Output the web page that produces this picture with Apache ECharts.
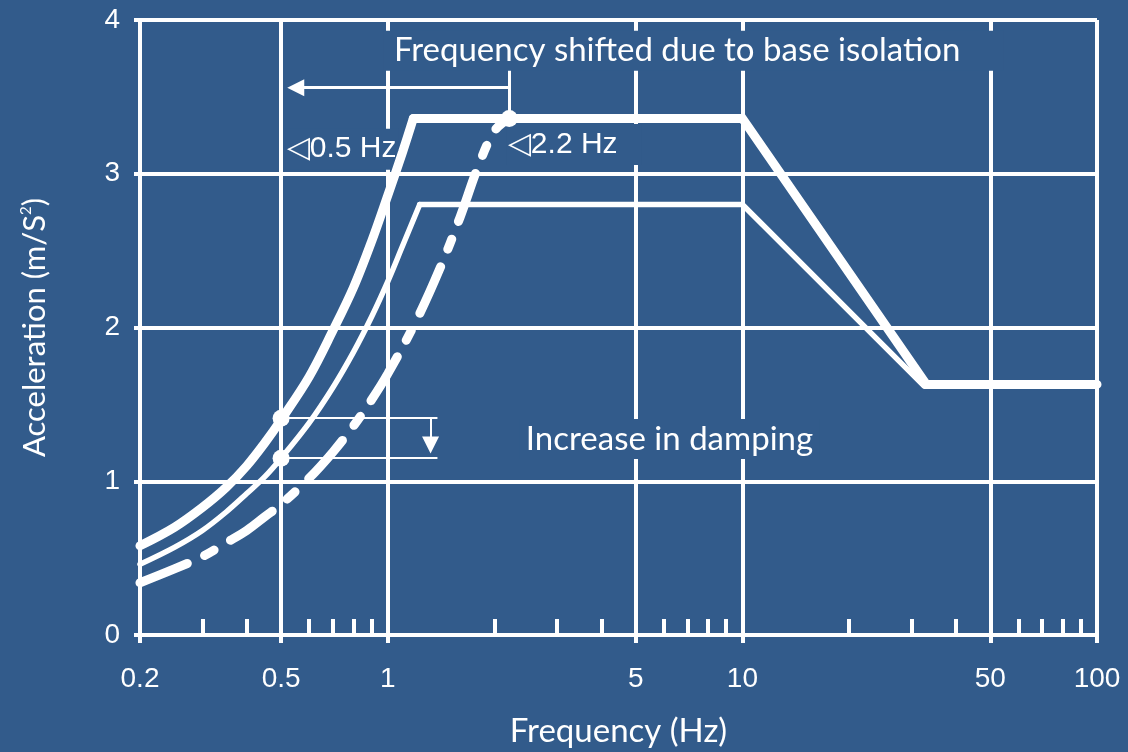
<!DOCTYPE html>
<html><head><meta charset="utf-8">
<script src="https://cdn.jsdelivr.net/npm/echarts@6/dist/echarts.min.js"></script>
<style>html,body{margin:0;padding:0;background:#325b8b}#c{width:1128px;height:752px}</style>
</head><body><div id="c"></div>
<script>
// ---- data ----
const majorTicks = [0.2, 0.5, 1, 5, 10, 50, 100];
const minorTicks = [0.3, 0.4, 0.6, 0.7, 0.8, 0.9, 2, 3, 4, 6, 7, 8, 9, 20, 30, 40, 60, 70, 80, 90];
const upperFreq = [0.2, 0.25, 0.3, 0.35, 0.4, 0.45, 0.5, 0.6, 0.7, 0.8, 0.9, 1.0, 1.1, 1.18, 10, 33, 100];
const upperAcc  = [0.58, 0.70, 0.83, 0.96, 1.10, 1.25, 1.40, 1.68, 1.98, 2.26, 2.56, 2.86, 3.14, 3.36, 3.36, 1.63, 1.63];
const dampedFreq = [0.2, 0.25, 0.3, 0.35, 0.4, 0.45, 0.5, 0.6, 0.7, 0.8, 0.9, 1.0, 1.1, 1.23, 10, 32.5];
const dampedAcc  = [0.46, 0.57, 0.68, 0.80, 0.92, 1.03, 1.15, 1.38, 1.61, 1.84, 2.07, 2.30, 2.53, 2.80, 2.80, 1.62];
const isolatedFreq = [0.2, 0.25, 0.3, 0.35, 0.4, 0.45, 0.5, 0.6, 0.7, 0.8, 0.9, 1.0, 1.2, 1.4, 1.6, 1.8, 2.0, 2.2];
const isolatedAcc  = [0.34, 0.43, 0.51, 0.60, 0.68, 0.77, 0.85, 1.02, 1.19, 1.36, 1.53, 1.70, 2.04, 2.38, 2.72, 3.05, 3.28, 3.36];
const markedPoints = [[0.5, 1.41], [0.5, 1.15], [2.2, 3.36]];
const annotationTexts = ['Frequency shifted due to base isolation', '\u25C10.5 Hz', '\u25C12.2 Hz', 'Increase in damping'];
const annotationAnchors = [[0.975, 3.80], [0.5155, 3.16], [2.166, 3.19], [2.357, 1.275]];
const arrowLines = [
  {coords: [[2.2, 3.56], [0.55, 3.56]], arrow: true, width: 3},
  {coords: [[2.2, 3.36], [2.2, 3.67]], arrow: false, width: 3},
  {coords: [[0.5, 1.41], [1.38, 1.41]], arrow: false, width: 2},
  {coords: [[0.5, 1.15], [1.38, 1.15]], arrow: false, width: 2},
  {coords: [[1.32, 1.41], [1.32, 1.235]], arrow: true, width: 2}
];

const BG = '#325b8b';
const W = '#ffffff';
const zip = (a, b) => a.map((v, i) => [v, b[i]]);
// split a curve at its first peak: rising (smoothed) part and straight remainder
function splitAtPeak(fs, as) {
  let k = 0;
  for (let i = 1; i < as.length; i++) { if (as[i] > as[k]) k = i; }
  const pts = zip(fs, as);
  return [pts.slice(0, k + 1), pts.slice(k)];
}

const chart = echarts.init(document.getElementById('c'), null, {renderer: 'canvas'});
const humanist = 'Lato, "Open Sans", sans-serif';
const arial = '"Liberation Sans", Arial, sans-serif';

const [upRise, upRest] = splitAtPeak(upperFreq, upperAcc);
const [dmRise, dmRest] = splitAtPeak(dampedFreq, dampedAcc);

const curveBase = {type: 'line', z: 3, showSymbol: false, silent: true};

const labelStyles = [
  {fontFamily: humanist, fontSize: 33, padding: [4, 10, 3, 10], width: 600},
  {fontFamily: arial, fontSize: 30, padding: [6, 2, 5, 1]},
  {fontFamily: arial, fontSize: 30, padding: [6, 4, 5, 1], width: 130},
  {fontFamily: humanist, fontSize: 33, padding: [4, 6, 3, 6]}
];

const option = {
  backgroundColor: BG,
  animation: false,
  grid: {left: 140, right: 31, top: 20, bottom: 117, containLabel: false, outerBoundsMode: 'none'},
  xAxis: [
    {
      type: 'log', logBase: 10, min: 0.2, max: 100, position: 'bottom',
      axisLine: {onZero: false, lineStyle: {color: W, width: 4}},
      axisTick: {show: true, customValues: majorTicks, length: 8, lineStyle: {color: W, width: 4}},
      axisLabel: {customValues: majorTicks, color: W, fontFamily: arial, fontSize: 28, margin: 30,
                  formatter: v => String(+v.toPrecision(6))},
      splitLine: {show: true, lineStyle: {color: W, width: 4}},
      name: 'Frequency (Hz)', nameLocation: 'middle', nameGap: 80,
      nameTextStyle: {color: W, fontFamily: humanist, fontSize: 33}
    },
    {
      type: 'log', logBase: 10, min: 0.2, max: 100, position: 'bottom',
      axisLine: {show: false, onZero: false},
      axisTick: {show: true, inside: true, customValues: minorTicks, length: 16, lineStyle: {color: W, width: 4}},
      axisLabel: {show: false},
      splitLine: {show: false}
    }
  ],
  yAxis: {
    type: 'value', min: 0, max: 4, interval: 1,
    axisLine: {show: true, lineStyle: {color: W, width: 4}},
    axisTick: {show: true, length: 6, lineStyle: {color: W, width: 4}},
    axisLabel: {color: W, fontFamily: arial, fontSize: 28, margin: 20},
    splitLine: {show: true, lineStyle: {color: W, width: 4}},
    name: 'Acceleration (m/S{sup|2})', nameLocation: 'middle', nameGap: 90,
    nameTextStyle: {color: W, fontFamily: humanist, fontSize: 31,
      rich: {sup: {fontSize: 15, color: W, fontFamily: humanist, verticalAlign: 'top', padding: [0, 0, 12, 0]}}}
  },
  series: [
    {
      type: 'scatter', z: 1, symbolSize: 0, silent: true,
      itemStyle: {opacity: 1, color: BG},
      data: annotationTexts.map((t, i) => ({value: annotationAnchors[i], name: t, label: labelStyles[i]})),
      label: {
        show: true, position: 'right', distance: 0, formatter: p => p.name,
        color: W, backgroundColor: BG, opacity: 1
      }
    },
    {
      type: 'lines', coordinateSystem: 'cartesian2d', z: 2, silent: true,
      data: arrowLines.map(a => ({coords: a.coords,
        symbol: a.arrow ? ['none', 'triangle'] : ['none', 'none'],
        lineStyle: {width: a.width}})),
      symbol: ['none', 'none'], symbolSize: 17,
      lineStyle: {color: W, width: 3, opacity: 1, curveness: 0}
    },
    Object.assign({}, curveBase, {data: upRise, smooth: 0.35, lineStyle: {color: W, width: 9, cap: 'round'}}),
    Object.assign({}, curveBase, {data: upRest, lineStyle: {color: W, width: 9, join: 'miter', cap: 'round'}}),
    Object.assign({}, curveBase, {data: dmRise, smooth: 0.35, lineStyle: {color: W, width: 5.5, cap: 'round'}}),
    Object.assign({}, curveBase, {data: dmRest, lineStyle: {color: W, width: 5.5, join: 'miter', cap: 'round'}}),
    Object.assign({}, curveBase, {data: zip(isolatedFreq, isolatedAcc), smooth: 0.35,
      lineStyle: {color: W, width: 9, type: [51, 19, 11, 19], cap: 'round'}}),
    {
      type: 'scatter', z: 4, data: markedPoints, symbolSize: 17, silent: true, itemStyle: {color: W, opacity: 1}
    }
  ]
};
chart.setOption(option);
</script></body></html>
